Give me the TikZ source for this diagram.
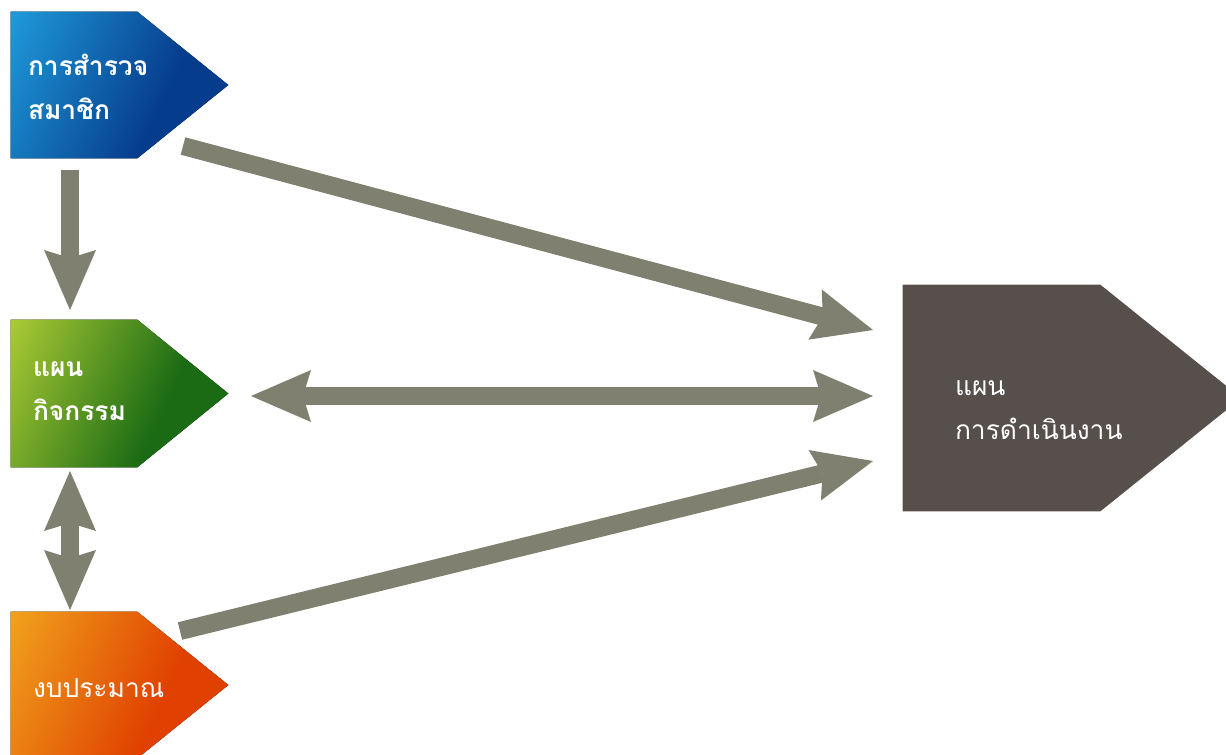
\documentclass[tikz,border=0pt]{standalone}
\usepackage{fontspec}
\newfontfamily\thaifont[Script=Thai]{Loma}
\usepackage{tikz}
\usetikzlibrary{arrows.meta,calc}
\definecolor{blueA}{RGB}{30,152,216}
\definecolor{blueB}{RGB}{6,60,140}
\definecolor{greenA}{RGB}{168,200,52}
\definecolor{greenB}{RGB}{26,107,20}
\definecolor{orangeA}{RGB}{240,160,28}
\definecolor{orangeB}{RGB}{224,64,0}
\definecolor{planbrown}{RGB}{87,79,75}
\definecolor{flowgrey}{RGB}{128,128,112}
\pgfdeclarehorizontalshading{blueramp}{100bp}{color(0bp)=(blueA); color(18bp)=(blueA); color(62bp)=(blueB); color(100bp)=(blueB)}
\pgfdeclarehorizontalshading{greenramp}{100bp}{color(0bp)=(greenA); color(18bp)=(greenA); color(62bp)=(greenB); color(100bp)=(greenB)}
\pgfdeclarehorizontalshading{orangeramp}{100bp}{color(0bp)=(orangeA); color(18bp)=(orangeA); color(62bp)=(orangeB); color(100bp)=(orangeB)}
\tikzset{
  tagbox/.style={rectangle, minimum width=2.52cm, inner sep=0pt},
  tagtext/.style={anchor=west, align=left, inner sep=0pt, text=white,
    font=\thaifont\fontsize{15}{25}\selectfont},
  boldtext/.style={tagtext, font=\thaifont\bfseries\fontsize{15}{25}\selectfont},
  blueshade/.style={shading=blueramp, shading angle=-25},
  greenshade/.style={shading=greenramp, shading angle=-25},
  orangeshade/.style={shading=orangeramp, shading angle=-25},
  planfill/.style={fill=planbrown},
  flowtip/.tip={Stealth[length=1.2cm, width=1.04cm, inset=0.16cm, line width=0pt]},
  flow/.style={draw=flowgrey, line width=0.36cm, -flowtip},
  dualflow/.style={flow, flowtip-flowtip}
}
\begin{document}
\begin{tikzpicture}[x=0.02cm, y=-0.02cm]
\useasboundingbox (0,0) rectangle (1226,754);
\clip (0,0) rectangle (1226,754);

% boxes
\node[tagbox, minimum height=2.92cm] (survey) at (74,85) {};
\node[tagbox, minimum height=2.94cm] (activity) at (74,393.5) {};
\node[tagbox, minimum height=2.92cm] (budget) at (74,685) {};
\node[tagbox, minimum width=3.94cm, minimum height=4.52cm] (plan) at (1001.5,398) {};

\foreach \nm/\tip/\look in {survey/91/blueshade, activity/91/greenshade, budget/91/orangeshade, plan/141/planfill}
  \fill[\look] (\nm.north west) -- (\nm.north east) -- ($(\nm.east)+(\tip,0)$)
    -- (\nm.south east) -- (\nm.south west) -- cycle;

\node[boldtext] (surveytext) at ([xshift=0.34cm, yshift=-0.04cm]survey.west) {การสำรวจ\\สมาชิก};
\node[boldtext] (activitytext) at ([xshift=0.44cm, yshift=0.04cm]activity.west) {แผน\\กิจกรรม};
\node[tagtext] (budgettext) at ([xshift=0.44cm, yshift=-0.06cm]budget.west) {งบประมาณ};
\node[tagtext] (plantext) at ([xshift=1.04cm, yshift=-0.24cm]plan.west) {แผน\\การดำเนินงาน};

% connector ends
\coordinate (surveyS) at (70,170);
\coordinate (surveyE) at (183,146);
\coordinate (activityN) at (70,310);
\coordinate (activityE) at (251,396);
\coordinate (activityS) at (70,471);
\coordinate (budgetN) at (70,610);
\coordinate (budgetE) at (180,631);
\coordinate (planNW) at (873,330);
\coordinate (planW) at (873,396);
\coordinate (planSW) at (873,461);

\draw[flow] (surveyS) -- (activityN);
\draw[flow] (surveyE) -- (planNW);
\draw[dualflow] (activityE) -- (planW);
\draw[dualflow] (activityS) -- (budgetN);
\draw[flow] (budgetE) -- (planSW);
\end{tikzpicture}
\end{document}
